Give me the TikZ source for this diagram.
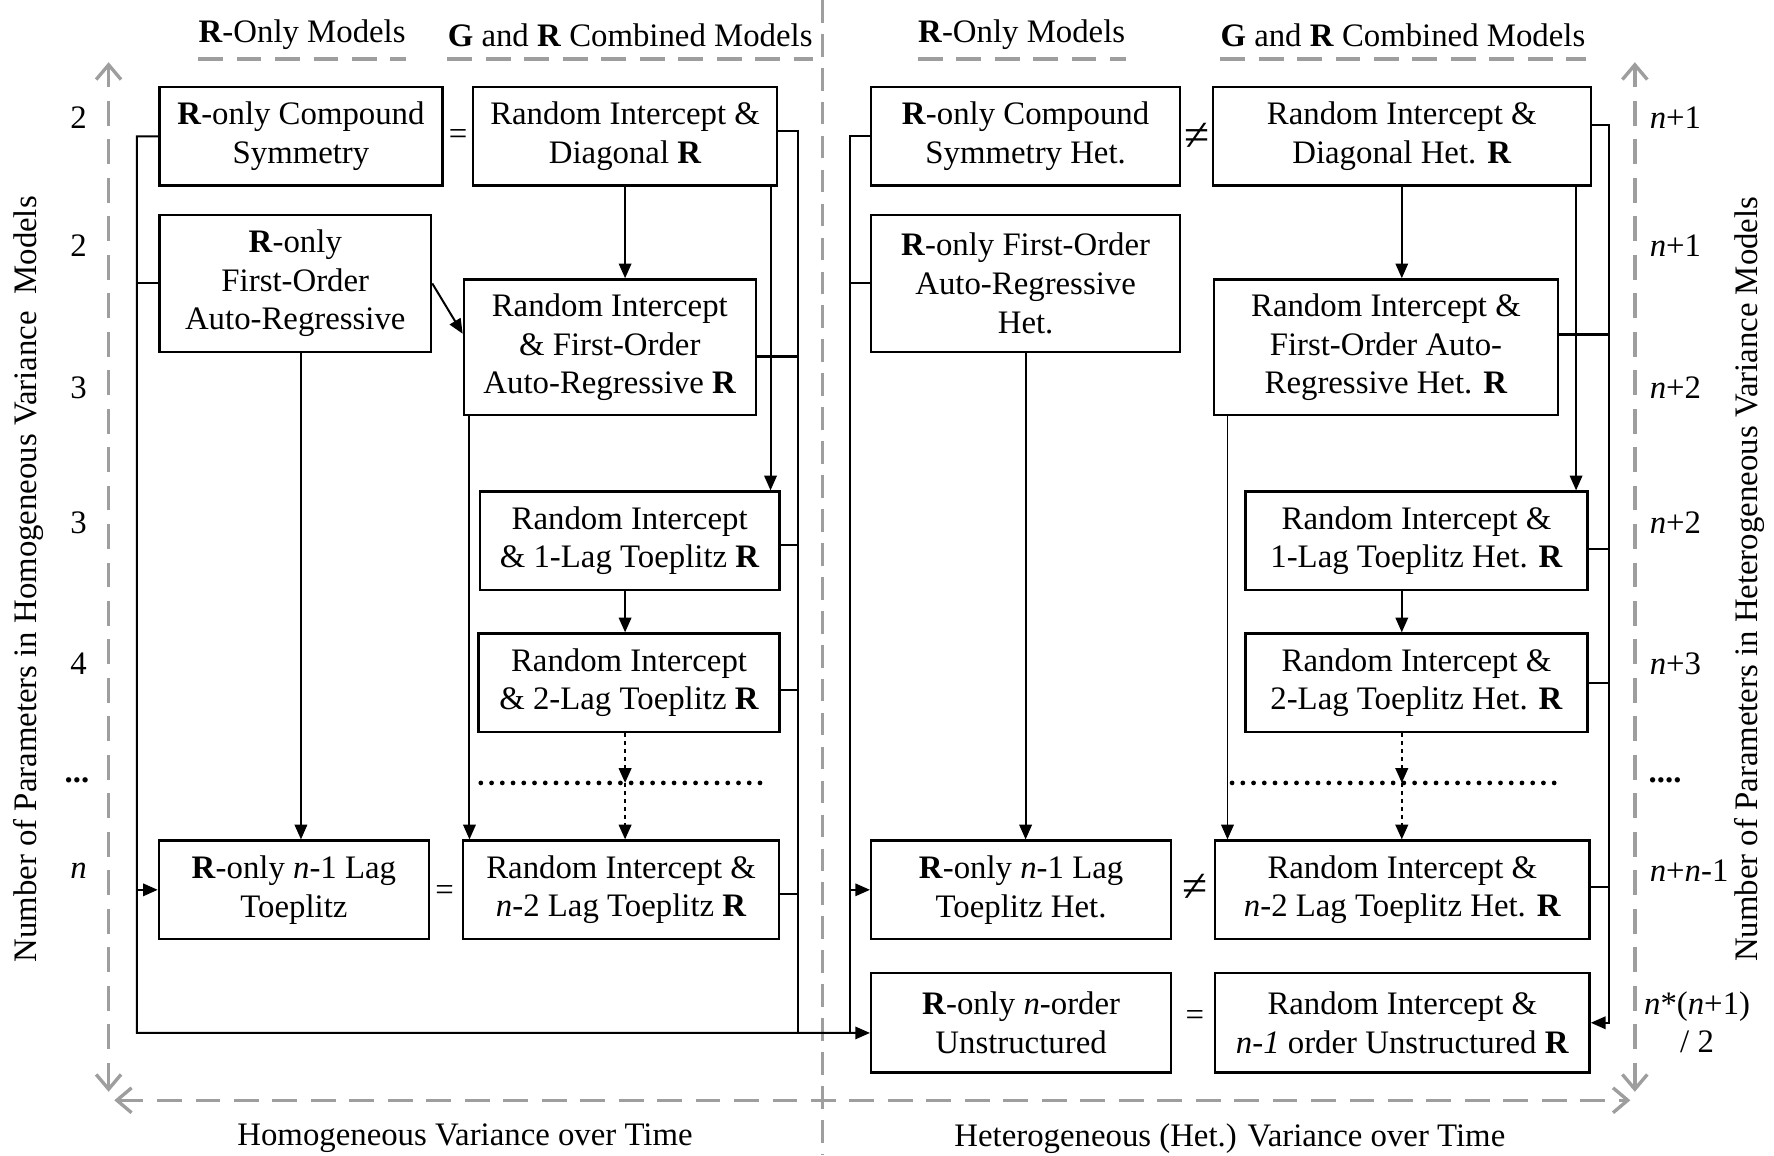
\documentclass[tikz,border=0pt]{standalone}
\usepackage{fontspec}
\setmainfont{Liberation Serif}
\usetikzlibrary{arrows.meta,positioning}

\begin{document}
\begin{tikzpicture}[
  every node/.style={font=\fontsize{16.5}{19.4}\selectfont},
  model/.style={draw, line width=1.2pt, align=center, minimum height=1.74cm, inner sep=1pt},
  arr/.style={-{Triangle[length=2.6mm,width=2.2mm]}, line width=1pt},
  link/.style={line width=1pt},
  relsign/.style={font=\fontsize{23}{23}\selectfont},
  dotarr/.style={arr, dash pattern=on 2pt off 2pt, line width=1.2pt},
  dotline/.style={line width=2.4pt, line cap=round, dash pattern=on 0pt off 5.4pt},
  guide/.style={black!38, line width=1.7pt, dash pattern=on 4.4mm off 2.4mm},
  axis/.style={guide, {Straight Barb[length=2.6mm,width=4.4mm]}-{Straight Barb[length=2.6mm,width=4.4mm]}}
]
\useasboundingbox (0,0) rectangle (31.36,-20.42);

% ==== column headers ====
\node[inner sep=0] (hR)   at (5.34,-0.62)  {\textbf{R}-Only Models};
\node[inner sep=0] (hGR)  at (11.14,-0.62) {\textbf{G} and \textbf{R} Combined Models};
\node[inner sep=0] (hRH)  at (18.06,-0.62) {\textbf{R}-Only Models};
\node[inner sep=0] (hGRH) at (24.8,-0.62)  {\textbf{G} and \textbf{R} Combined Models};
\coordinate (uline) at (0,-1.04);
\foreach \h in {hR,hGR,hRH,hGRH}
  \draw[guide] (\h.west |- uline) -- (\h.east |- uline);

% ==== gray frame ====
\draw[black!38, line width=1.1pt, dash pattern=on 4mm off 2mm] (14.54,0) -- (14.54,-20.42);
\draw[axis] (1.92,-19.3) -- (1.92,-1.1);
\draw[axis] (28.9,-19.3) -- (28.9,-1.1);
\draw[axis] (2.02,-19.45) -- (28.82,-19.45);

\node[rotate=90] (yHom) at (0.5,-10.24) {Number of Parameters in Homogeneous Variance\ \ Models};
\node[rotate=90] (yHet) at (30.92,-10.24) {Number of Parameters in Heterogeneous Variance Models};
\node (xHom) at (8.22,-20.12)  {Homogeneous Variance over Time};
\node (xHet) at (21.74,-20.12) {Heterogeneous (Het.) Variance over Time};

% ==== parameter counts ====
\foreach \y/\t [count=\i] in {-2.08/2, -4.34/2, -6.86/3, -9.24/3, -11.74/4, -15.4/\textit{n}}
  \node (pl\i) at (1.39,\y) {\t};
\node (pl7) at (1.36,-13.8) {\textbf{...}};
\foreach \y/\t [count=\i] in {-2.08/\textit{n}+1, -4.34/\textit{n}+1, -6.86/\textit{n}+2,
    -9.24/\textit{n}+2, -11.74/\textit{n}+3, -15.4/\textit{n}+\textit{n}-1}
  \node[anchor=west] (pr\i) at (29.04,\y) {\t};
\node[anchor=west] (pr7) at (29.02,-13.8) {\textbf{....}};
\node[align=center] (pr8) at (30.0,-18.07) {\textit{n}*(\textit{n}+1)\\/ 2};

% ==== homogeneous models ====
\node[model, minimum width=5.0cm]  (cs)    at (5.32,-2.41)   {\textbf{R}-only Compound\\Symmetry};
\node[model, minimum width=5.38cm] (diag)  at (11.05,-2.41)  {Random Intercept \&\\Diagonal \textbf{R}};
\node[model, minimum width=4.8cm, minimum height=2.42cm] (ar) at (5.22,-5.01)
    {\textbf{R}-only\\First-Order\\Auto-Regressive};
\node[model, minimum width=5.16cm, minimum height=2.4cm] (riar) at (10.78,-6.14)
    {Random Intercept\\\& First-Order\\Auto-Regressive \textbf{R}};
\node[model, minimum width=5.3cm]  (lag1)  at (11.13,-9.56)  {Random Intercept\\\& 1-Lag Toeplitz \textbf{R}};
\node[model, minimum width=5.32cm] (lag2)  at (11.12,-12.07) {Random Intercept\\\& 2-Lag Toeplitz \textbf{R}};
\node[model, minimum width=4.77cm] (lagn1) at (5.195,-15.73) {\textbf{R}-only \textit{n}-1 Lag\\Toeplitz};
\node[model, minimum width=5.58cm] (lagn2) at (10.98,-15.73) {Random Intercept \&\\\textit{n}-2 Lag Toeplitz \textbf{R}};
\node (eq1) at (8.1,-2.42) {=};
\node (eq2) at (7.86,-15.78) {=};

% ==== heterogeneous models ====
\node[model, minimum width=5.46cm] (csh)    at (18.13,-2.41)  {\textbf{R}-only Compound\\Symmetry Het.};
\node[model, minimum width=6.68cm] (diagh)  at (24.78,-2.41)  {Random Intercept \&\\Diagonal Het. \textbf{R}};
\node[model, minimum width=5.46cm, minimum height=2.42cm] (arh) at (18.13,-5.01)
    {\textbf{R}-only First-Order\\Auto-Regressive\\Het.};
\node[model, minimum width=6.08cm, minimum height=2.4cm] (riarh) at (24.5,-6.14)
    {Random Intercept \&\\First-Order Auto-\\Regressive Het. \textbf{R}};
\node[model, minimum width=6.04cm] (lag1h)  at (25.04,-9.56)  {Random Intercept \&\\1-Lag Toeplitz Het. \textbf{R}};
\node[model, minimum width=6.04cm] (lag2h)  at (25.04,-12.07) {Random Intercept \&\\2-Lag Toeplitz Het. \textbf{R}};
\node[model, minimum width=5.3cm]  (lagn1h) at (18.05,-15.73) {\textbf{R}-only \textit{n}-1 Lag\\Toeplitz Het.};
\node[model, minimum width=6.62cm] (lagn2h) at (24.79,-15.73) {Random Intercept \&\\\textit{n}-2 Lag Toeplitz Het. \textbf{R}};
\node[model, minimum width=5.3cm, minimum height=1.76cm] (un)   at (18.05,-18.08) {\textbf{R}-only \textit{n}-order\\Unstructured};
\node[model, minimum width=6.62cm, minimum height=1.76cm] (unri) at (24.79,-18.08)
    {Random Intercept \&\\\textit{n-1} order Unstructured \textbf{R}};
\node[relsign] (neq1) at (21.16,-2.42) {≠};
\node[relsign] (neq2) at (21.12,-15.7) {≠};
\node (eq3)  at (21.12,-18.0) {=};

% ==== buses ====
\coordinate (lbus) at (2.42,-18.26);
\draw[arr] (cs.west) -| (lbus) -- ([yshift=-1.8mm]un.west);
\draw[link] (ar.west) -- (ar.west -| lbus);
\draw[arr] (lagn1.west -| lbus) -- (lagn1.west);

\coordinate (rbus) at (14.1,-18.26);
\draw[link] ([yshift=1mm]diag.east) -| (rbus);
\draw[link, line width=1.6pt] ([yshift=-1.6mm]riar.east) -- ([yshift=-1.6mm]riar.east -| rbus);
\foreach \n/\s in {lag1/-0.8mm, lag2/-1.3mm, lagn2/-0.7mm}
  \draw[link] ([yshift=\s]\n.east) -- ([yshift=\s]\n.east -| rbus);

\coordinate (hlbus) at (15.02,-18.26);
\draw[link] (csh.west) -| (hlbus);
\draw[link] (arh.west) -- (arh.west -| hlbus);
\draw[arr] (lagn1h.west -| hlbus) -- (lagn1h.west);

\coordinate (hrbus) at (28.44,-18.08);
\draw[arr] ([yshift=2mm]diagh.east) -| (hrbus) -- (unri.east);
\draw[link, line width=1.6pt] ([yshift=2.2mm]riarh.east) -- ([yshift=2.2mm]riarh.east -| hrbus);
\foreach \n/\s in {lag1h/-1.4mm, lag2h/0mm, lagn2h/0.5mm}
  \draw[link] ([yshift=\s]\n.east) -- ([yshift=\s]\n.east -| hrbus);

% ==== nesting arrows, homogeneous ====
\draw[arr] (diag.south) -- (diag.south |- riar.north);
\coordinate (dgo) at ([xshift=-1.4mm]diag.south east);
\draw[arr] (dgo) -- (dgo |- lag1.north);
\draw[arr] (ar.east) -- ([yshift=2.4mm]riar.west);
\coordinate (aro) at ([xshift=1mm]ar.south);
\draw[arr] (aro) -- (aro |- lagn1.north);
\coordinate (rio) at ([xshift=1.2mm]riar.south west);
\draw[arr] (rio) -- (rio |- lagn2.north);
\draw[arr] (lag1.south -| diag.south) -- (lag2.north -| diag.south);
\coordinate (dl1) at (8.5,-13.84);
\coordinate (dl2) at (13.5,-13.84);
\draw[dotline] (dl1) -- (dl2);
\draw[dotarr] (lag2.south -| diag.south) -- (dl1 -| diag.south);
\draw[dotarr] (dl1 -| diag.south) -- (lagn2.north -| diag.south);

% ==== nesting arrows, heterogeneous ====
\draw[arr] (diagh.south) -- (diagh.south |- riarh.north);
\coordinate (dgho) at ([xshift=-2.8mm]diagh.south east);
\draw[arr] (dgho) -- (dgho |- lag1h.north);
\draw[arr] (arh.south) -- (arh.south |- lagn1h.north);
\coordinate (rhio) at ([xshift=2.6mm]riarh.south west);
\draw[arr] (rhio) -- (rhio |- lagn2h.north);
\draw[arr] (lag1h.south -| diagh.south) -- (lag2h.north -| diagh.south);
\coordinate (dh1) at (21.78,-13.84);
\coordinate (dh2) at (27.6,-13.84);
\draw[dotline] (dh1) -- (dh2);
\draw[dotarr] (lag2h.south -| diagh.south) -- (dh1 -| diagh.south);
\draw[dotarr] (dh1 -| diagh.south) -- (lagn2h.north -| diagh.south);
\end{tikzpicture}
\end{document}
